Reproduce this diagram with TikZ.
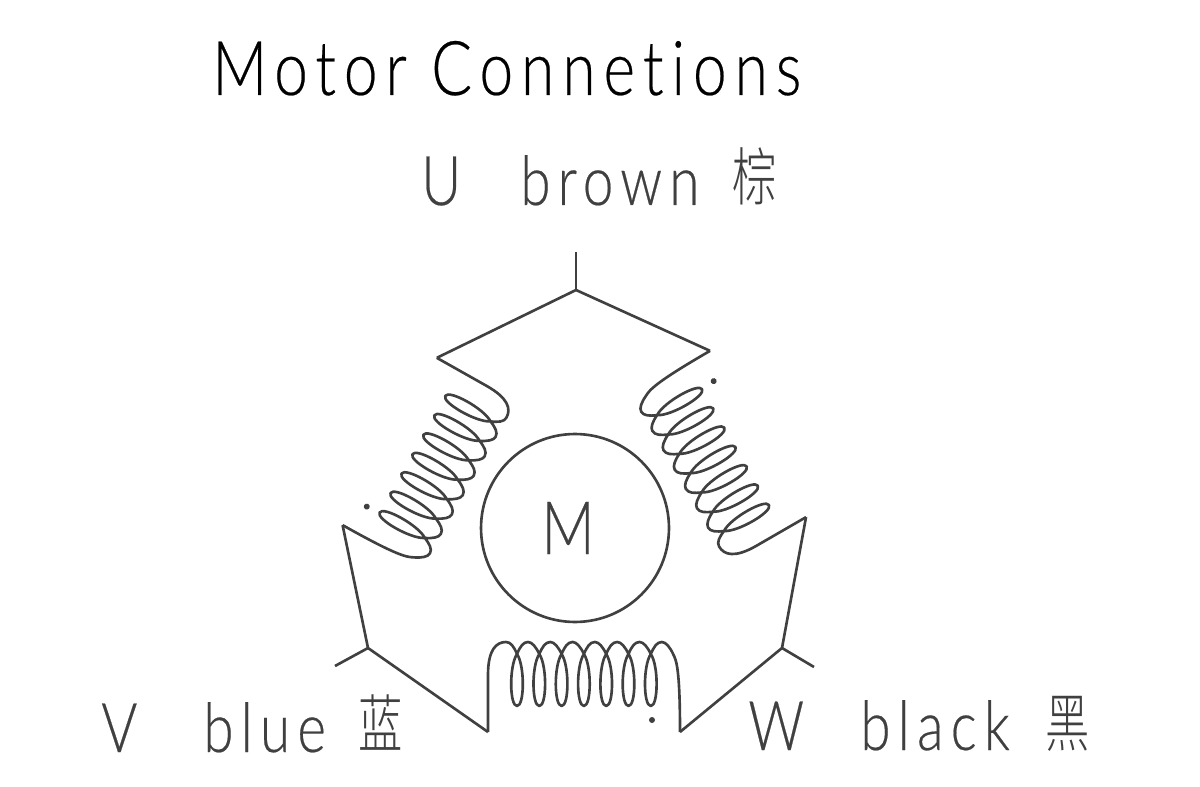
\documentclass[tikz,border=0pt]{standalone}
\usepackage{fontspec}
\newfontfamily\cadfont[FakeStretch=0.8,LetterSpace=10.5,FakeBold=0.3,Ligatures=NoCommon]{Lato Light}
\newfontfamily\cjkfont[FakeStretch=0.7]{Noto Sans CJK SC Light}
\usetikzlibrary{positioning,calc}
\definecolor{WireGray}{gray}{0.25}
\tikzset{
    wire/.style={draw=WireGray, line width=1.5pt, line join=round},
    titletext/.style={inner sep=0pt, anchor=base west, text=black, font=\cadfont\fontsize{43}{43}\selectfont},
    wiretext/.style={inner sep=0pt, anchor=base west, text=WireGray, font=\cadfont\fontsize{39}{39}\selectfont},
    hanzi/.style={inner sep=0pt, anchor=base west, text=WireGray, font=\cjkfont\fontsize{36}{36}\selectfont},
    motornode/.style={circle, wire, minimum size=3.76cm, inner sep=0pt, text=WireGray, font=\cadfont\fontsize{42}{42}\selectfont}
}
% one winding, drawn flat and then turned into place
\newcommand{\motorcoil}[3]{
    \begin{scope}[shift={(#2)}, rotate=#3]
        \coordinate (#1a) at (-96,52);
        \coordinate (#1b) at (96,52);
        \draw[wire] (#1a) -- (-96,-5) .. controls (-96,-30) and (-88,-38) .. (-78,-38)
            .. controls (-73,-38) and (-70,-33) .. (-67,-26)
            \foreach \i [evaluate=\i as \cx using -67+22.3*\i] in {0,...,6} {
                .. controls ({\cx+8},-14) and ({\cx+7.5},26) .. (\cx,26)
                .. controls ({\cx-7.5},26) and ({\cx-8},-14) .. (\cx,-26)
                .. controls ({\cx+3},-33) and ({\cx+6},-38) .. ({\cx+11},-38)
                .. controls ({\cx+15},-38) and ({\cx+19},-33) .. ({\cx+22.3},-26)
            }
            .. controls (92,-20) and (96,-14) .. (#1b);
        \fill[WireGray] (68,40) circle (3);
    \end{scope}
}
\begin{document}
\begin{tikzpicture}[x=0.02cm, y=-0.02cm]
    \useasboundingbox (0,0) rectangle (1200,787);

    % --- TEXTS ---
    \node[titletext] (title) at (212,95) {Motor Connetions};
    \node[wiretext] (labelU) at (421,205) {U};
    \node[wiretext] (nameU) at (520,205) {brown};
    \node[hanzi] (hanziU) at (732,201) {棕};
    \node[wiretext] (labelV) at (101,752) {V};
    \node[wiretext] (nameV) at (203,752) {blue};
    \node[hanzi] (hanziV) at (358,747) {蓝};
    \node[wiretext] (labelW) at (748,750) {W};
    \node[wiretext] (nameW) at (860,750) {black};
    \node[hanzi] (hanziW) at (1045,746) {黑};

    % --- MOTOR ---
    \node[motornode] (motor) at (575,528) {\kern-0.28cm\raisebox{-0.06cm}{M}};

    % --- WINDINGS ---
    \motorcoil{left}{435,467}{-119.4}
    \motorcoil{right}{713,460}{120}
    \motorcoil{bottom}{584,680}{0}

    % --- WIRES ---
    \coordinate (tipU) at (576,252);
    \coordinate (joinU) at (576,290);
    \coordinate (tipV) at (335,666);
    \coordinate (joinV) at (368,648);
    \coordinate (tipW) at (814,667);
    \coordinate (joinW) at (782,648);
    \draw[wire] (tipU) -- (joinU);
    \draw[wire] (lefta) -- (joinU) -- (rightb);
    \draw[wire] (leftb) -- (joinV) -- (bottoma);
    \draw[wire] (tipV) -- (joinV);
    \draw[wire] (righta) -- (joinW) -- (bottomb);
    \draw[wire] (tipW) -- (joinW);
\end{tikzpicture}
\end{document}
